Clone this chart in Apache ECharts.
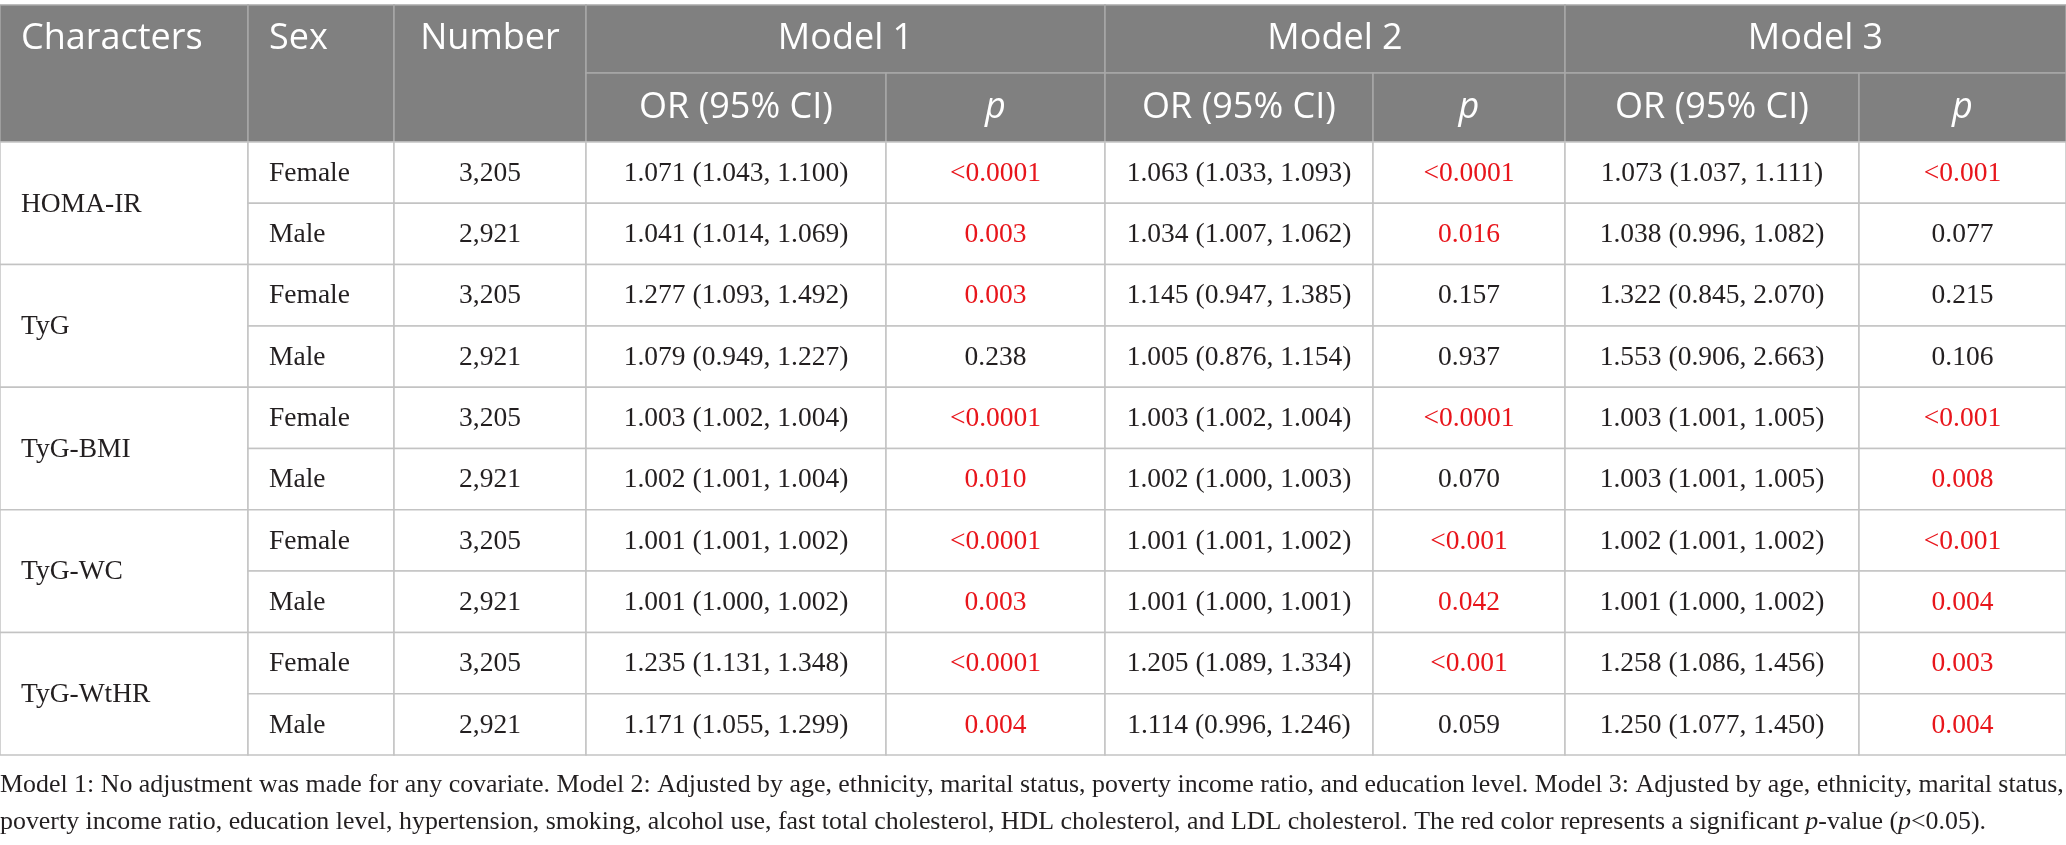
<!DOCTYPE html>
<html>
<head>
<meta charset="utf-8">
<title>OR table</title>
<script src="https://cdn.jsdelivr.net/npm/echarts@6/dist/echarts.min.js"></script>
<style>
  html, body { margin: 0; padding: 0; background: #fff; }
  #chart { width: 2066px; height: 845px; }
</style>
</head>
<body>
<div id="chart"></div>
<script>
// Table data
const characters = ["HOMA-IR", "TyG", "TyG-BMI", "TyG-WC", "TyG-WtHR"];
const sexes = ["Female", "Male"];
const numbers = ["3,205", "2,921"];
const modelNames = ["Model 1", "Model 2", "Model 3"];

const model1OR = [
  "1.071 (1.043, 1.100)", "1.041 (1.014, 1.069)",
  "1.277 (1.093, 1.492)", "1.079 (0.949, 1.227)",
  "1.003 (1.002, 1.004)", "1.002 (1.001, 1.004)",
  "1.001 (1.001, 1.002)", "1.001 (1.000, 1.002)",
  "1.235 (1.131, 1.348)", "1.171 (1.055, 1.299)",
];
const model1P = ["<0.0001", "0.003", "0.003", "0.238", "<0.0001", "0.010", "<0.0001", "0.003", "<0.0001", "0.004"];

const model2OR = [
  "1.063 (1.033, 1.093)", "1.034 (1.007, 1.062)",
  "1.145 (0.947, 1.385)", "1.005 (0.876, 1.154)",
  "1.003 (1.002, 1.004)", "1.002 (1.000, 1.003)",
  "1.001 (1.001, 1.002)", "1.001 (1.000, 1.001)",
  "1.205 (1.089, 1.334)", "1.114 (0.996, 1.246)",
];
const model2P = ["<0.0001", "0.016", "0.157", "0.937", "<0.0001", "0.070", "<0.001", "0.042", "<0.001", "0.059"];

const model3OR = [
  "1.073 (1.037, 1.111)", "1.038 (0.996, 1.082)",
  "1.322 (0.845, 2.070)", "1.553 (0.906, 2.663)",
  "1.003 (1.001, 1.005)", "1.003 (1.001, 1.005)",
  "1.002 (1.001, 1.002)", "1.001 (1.000, 1.002)",
  "1.258 (1.086, 1.456)", "1.250 (1.077, 1.450)",
];
const model3P = ["<0.001", "0.077", "0.215", "0.106", "<0.001", "0.008", "<0.001", "0.004", "0.003", "0.004"];

const footLine1 = "Model 1: No adjustment was made for any covariate. Model 2: Adjusted by age, ethnicity, marital status, poverty income ratio, and education level. Model 3: Adjusted by age, ethnicity, marital status,";
const footLine2 = "poverty income ratio, education level, hypertension, smoking, alcohol use, fast total cholesterol, HDL cholesterol, and LDL cholesterol. The red color represents a significant {i|p}-value ({i|p}<0.05).";

// Layout (pixels)
const colEdges = [0, 248, 394, 586, 886, 1105, 1373, 1565, 1859, 2066];
const headTop = 5;
const headMid = 73;
const bodyTop = 142;
const rowH = 61.3;
const pad = 21;
const footSize = 25.9;

const headFill = "#808080";
const headLine = "#a8a8a8";
const bodyLine = "#c3c3c3";
const textDark = "#231f20";
const sigRed = "#e8151b";

const isSignificant = (p) => p.startsWith("<") || parseFloat(p) < 0.05;

// Build cell list
const cells = [];
const addCell = (c0, c1, y0, y1, text, opts) => {
  cells.push(Object.assign({ x0: colEdges[c0], x1: colEdges[c1], y0, y1, text, align: "center", ty: (y0 + y1) / 2 }, opts));
};

// header
const headRow1Y = (headTop + headMid) / 2;
addCell(0, 1, headTop, bodyTop, "Characters", { head: true, align: "left", ty: headRow1Y });
addCell(1, 2, headTop, bodyTop, "Sex", { head: true, align: "left", ty: headRow1Y });
addCell(2, 3, headTop, bodyTop, "Number", { head: true, ty: headRow1Y });
modelNames.forEach((m, k) => {
  const c = 3 + k * 2;
  addCell(c, c + 2, headTop, headMid, m, { head: true });
  addCell(c, c + 1, headMid, bodyTop, "OR (95% CI)", { head: true });
  addCell(c + 1, c + 2, headMid, bodyTop, "p", { head: true, italic: true });
});

// body
const orCols = [model1OR, model2OR, model3OR];
const pCols = [model1P, model2P, model3P];
characters.forEach((ch, g) => {
  const gy0 = bodyTop + g * 2 * rowH;
  addCell(0, 1, gy0, gy0 + 2 * rowH, ch, { align: "left" });
  sexes.forEach((sx, s) => {
    const r = g * 2 + s;
    const y0 = bodyTop + r * rowH;
    const y1 = y0 + rowH;
    addCell(1, 2, y0, y1, sx, { align: "left" });
    addCell(2, 3, y0, y1, numbers[s]);
    for (let k = 0; k < 3; k++) {
      const c = 3 + k * 2;
      addCell(c, c + 1, y0, y1, orCols[k][r]);
      const p = pCols[k][r];
      addCell(c + 1, c + 2, y0, y1, p, { color: isSignificant(p) ? sigRed : textDark });
    }
  });
});

const chart = echarts.init(document.getElementById("chart"));

const option = {
  backgroundColor: "#fff",
  animation: false,
  grid: { left: 0, right: 0, top: 0, bottom: 0 },
  xAxis: { type: "value", min: 0, max: 2066, show: false },
  yAxis: { type: "value", min: 0, max: 845, inverse: true, show: false },
  series: [
    {
      type: "custom",
      coordinateSystem: "cartesian2d",
      silent: true,
      data: cells.map((c) => [c.x0, c.y0, c.x1, c.y1, c.ty]),
      renderItem: (params, api) => {
        const c = cells[params.dataIndex];
        const p0 = api.coord([api.value(0), api.value(1)]);
        const p1 = api.coord([api.value(2), api.value(3)]);
        const ty = api.coord([0, api.value(4)])[1];
        const tx = c.align === "left" ? p0[0] + pad : (p0[0] + p1[0]) / 2;
        return {
          type: "group",
          children: [
            {
              type: "rect",
              shape: { x: p0[0], y: p0[1], width: p1[0] - p0[0], height: p1[1] - p0[1] },
              style: {
                fill: c.head ? headFill : "#fff",
                stroke: c.head ? headLine : bodyLine,
                lineWidth: 1.5,
              },
            },
            {
              type: "text",
              style: {
                text: c.text,
                x: tx,
                y: ty + (c.head ? 0 : 1),
                align: c.align,
                verticalAlign: "middle",
                fill: c.head ? "#fff" : c.color || textDark,
                fontFamily: c.head ? "Open Sans" : "Liberation Serif",
                fontSize: c.head ? 36 : 27.5,
                fontStyle: c.italic ? "italic" : "normal",
              },
            },
          ],
        };
      },
    },
  ],
  graphic: [
    {
      type: "text",
      x: 0,
      y: 785,
      style: {
        text: footLine1,
        fill: textDark,
        fontFamily: "Liberation Serif",
        fontSize: footSize,
        verticalAlign: "middle",
      },
    },
    {
      type: "text",
      x: 0,
      y: 822,
      style: {
        text: footLine2,
        fill: textDark,
        fontFamily: "Liberation Serif",
        fontSize: footSize,
        verticalAlign: "middle",
        rich: {
          i: { fontStyle: "italic", fontFamily: "Liberation Serif", fontSize: footSize, fill: textDark },
        },
      },
    },
  ],
};

chart.setOption(option);
window.addEventListener("resize", () => chart.resize());
</script>
</body>
</html>
